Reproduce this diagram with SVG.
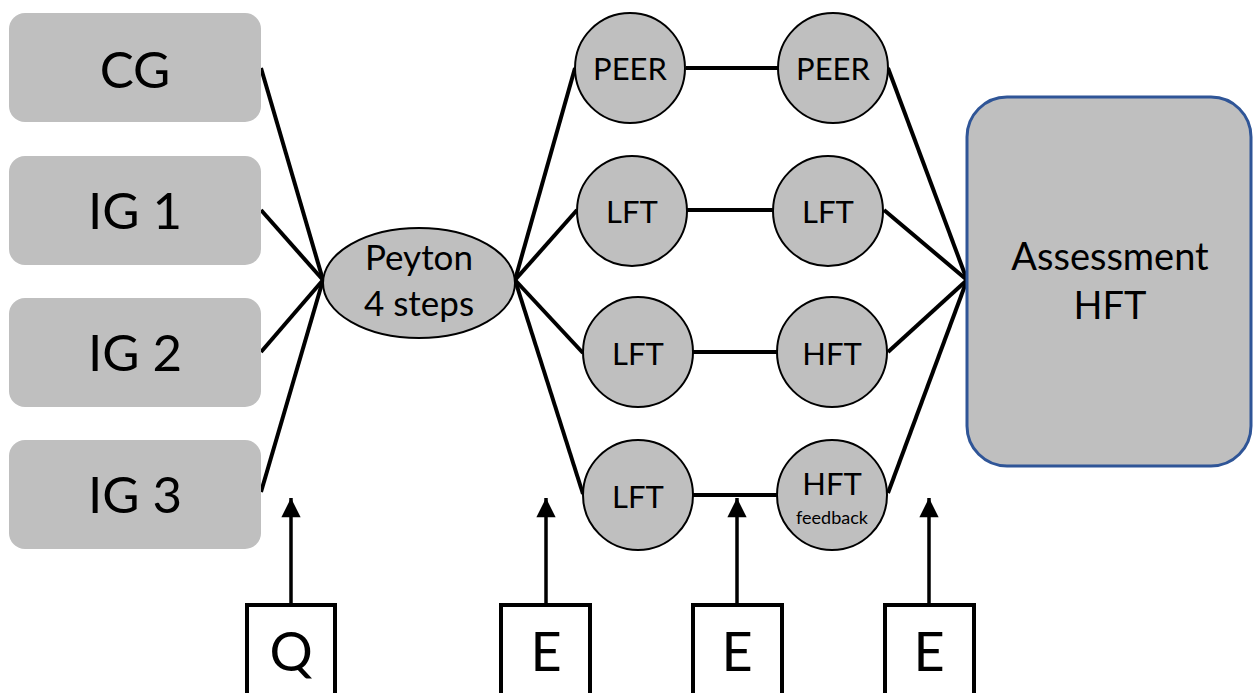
<svg xmlns="http://www.w3.org/2000/svg" width="1253" height="693" viewBox="0 0 1253 693">
<defs>
<style>
.grp{fill:#bfbfbf;}
.t{font-family:Lato,"Open Sans","Liberation Sans",sans-serif;fill:#000;text-anchor:middle;}
.big{font-size:51px;}
.mid{font-size:31px;}
.circ{fill:#bfbfbf;stroke:#000;stroke-width:2;}
.ln{stroke:#000;stroke-width:4;fill:none;}
.ar{stroke:#000;stroke-width:3.5;fill:none;marker-end:url(#ah);}
.sq{fill:#fff;stroke:#000;stroke-width:4;}
</style>
<marker id="ah" viewBox="0 0 10 10" refX="10" refY="5" markerWidth="5.7" markerHeight="5.5" orient="auto" markerUnits="strokeWidth">
<path d="M0,0 L10,5 L0,10 Z" fill="#000"/>
</marker>
</defs>
<rect width="1253" height="693" fill="#fff"/>
<g id="connectors">
<line class="ln" x1="261" y1="68" x2="323" y2="280"/>
<line class="ln" x1="261" y1="210" x2="323" y2="280"/>
<line class="ln" x1="261" y1="352" x2="323" y2="280"/>
<line class="ln" x1="261" y1="492" x2="323" y2="280"/>
<line class="ln" x1="515" y1="280" x2="575" y2="68"/>
<line class="ln" x1="515" y1="280" x2="577" y2="210"/>
<line class="ln" x1="515" y1="280" x2="583" y2="353"/>
<line class="ln" x1="515" y1="280" x2="583" y2="494"/>
<line class="ln" x1="686" y1="68" x2="778" y2="68"/>
<line class="ln" x1="687" y1="210" x2="773" y2="210"/>
<line class="ln" x1="693" y1="352" x2="777" y2="352"/>
<line class="ln" x1="693" y1="495" x2="777" y2="495"/>
<line class="ln" x1="888" y1="68" x2="967" y2="280"/>
<line class="ln" x1="884" y1="210" x2="967" y2="280"/>
<line class="ln" x1="888" y1="352" x2="967" y2="280"/>
<line class="ln" x1="888" y1="493" x2="967" y2="280"/>
<line class="ar" x1="291" y1="605" x2="291" y2="498"/>
<line class="ar" x1="546" y1="605" x2="546" y2="498"/>
<line class="ar" x1="737" y1="605" x2="737" y2="498"/>
<line class="ar" x1="929" y1="605" x2="929" y2="498"/>
</g>
<g id="cg"><rect class="grp" x="9" y="13" width="252" height="109" rx="16"/><text class="t big" x="135" y="88">CG</text></g>
<g id="ig1"><rect class="grp" x="9" y="156" width="252" height="109" rx="16"/><text class="t big" x="135" y="229">IG 1</text></g>
<g id="ig2"><rect class="grp" x="9" y="298" width="252" height="109" rx="16"/><text class="t big" x="135" y="371">IG 2</text></g>
<g id="ig3"><rect class="grp" x="9" y="440" width="252" height="109" rx="16"/><text class="t big" x="135" y="513">IG 3</text></g>
<g id="peyton"><ellipse cx="419" cy="283" rx="96" ry="55" class="circ"/><text class="t" style="font-size:35px" x="419" y="270">Peyton</text><text class="t" style="font-size:35px" x="419" y="316">4 steps</text></g>
<g id="peer1"><circle class="circ" cx="630" cy="68" r="55"/><text class="t mid" x="630" y="80">PEER</text></g>
<g id="peer2"><circle class="circ" cx="833" cy="68" r="55"/><text class="t mid" x="833" y="80">PEER</text></g>
<g id="lft1"><circle class="circ" cx="632" cy="211" r="55"/><text class="t mid" x="632" y="223">LFT</text></g>
<g id="lft2"><circle class="circ" cx="828" cy="211" r="55"/><text class="t mid" x="828" y="223">LFT</text></g>
<g id="lft3"><circle class="circ" cx="638" cy="352" r="55"/><text class="t mid" x="638" y="365">LFT</text></g>
<g id="hft1"><circle class="circ" cx="832" cy="352" r="55"/><text class="t mid" x="832" y="365">HFT</text></g>
<g id="lft4"><circle class="circ" cx="638" cy="495" r="55"/><text class="t mid" x="638" y="508">LFT</text></g>
<g id="hft2"><circle class="circ" cx="832" cy="495" r="55"/><text class="t mid" x="832" y="495">HFT</text><text class="t" style="font-size:18px" x="832" y="524">feedback</text></g>
<g id="assessment"><rect x="967" y="97" width="284" height="369" rx="40" fill="#bfbfbf" stroke="#2f5597" stroke-width="3"/><text class="t" style="font-size:38px" x="1110" y="270">Assessment</text><text class="t" style="font-size:38px" x="1110" y="319">HFT</text></g>
<g id="q"><rect class="sq" x="247" y="605" width="88" height="100"/><text class="t" style="font-size:54px" x="291" y="671">Q</text></g>
<g id="e1"><rect class="sq" x="501" y="605" width="89" height="100"/><text class="t" style="font-size:54px" x="546" y="671">E</text></g>
<g id="e2"><rect class="sq" x="693" y="605" width="89" height="100"/><text class="t" style="font-size:54px" x="737" y="671">E</text></g>
<g id="e3"><rect class="sq" x="885" y="605" width="89" height="100"/><text class="t" style="font-size:54px" x="929" y="671">E</text></g>
</svg>
